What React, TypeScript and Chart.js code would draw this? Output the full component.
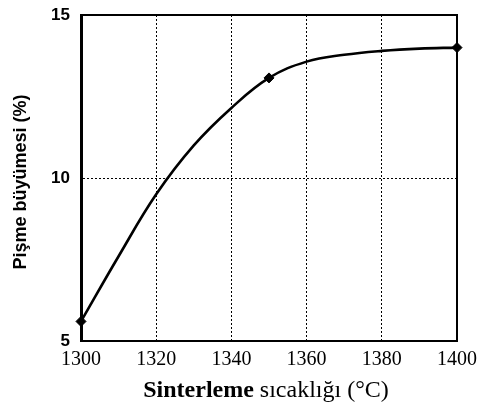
import React, { useEffect, useRef } from "react";
import { Chart, registerables } from "chart.js";

Chart.register(...registerables);

const curveTemps = [1300, 1310, 1320, 1330, 1340, 1350, 1360, 1370, 1380, 1390, 1400];
const curveGrowth = [5.6, 7.6, 9.5, 11.0, 12.15, 13.07, 13.57, 13.78, 13.9, 13.97, 14.0];
const measuredTemps = [1300, 1350, 1400];
const measuredGrowth = [5.6, 13.07, 14.0];
const xTicks = [1300, 1320, 1340, 1360, 1380, 1400];
const yTicks = [5, 10, 15];
const yTitle = "Pişme büyümesi (%)";
const xTitleBold = "Sinterleme";
const xTitleRegular = " sıcaklığı (°C)";

const framePlugin = {
  id: "frame",
  beforeDatasetsDraw(chart: any) {
    const { ctx, chartArea } = chart;
    ctx.save();
    ctx.strokeStyle = "#000";
    ctx.lineWidth = 2;
    ctx.beginPath();
    ctx.moveTo(chartArea.left, chartArea.top);
    ctx.lineTo(chartArea.right, chartArea.top);
    ctx.lineTo(chartArea.right, chartArea.bottom);
    ctx.stroke();
    ctx.restore();
  },
  afterDraw(chart: any) {
    const { ctx } = chart;
    ctx.save();
    ctx.fillStyle = "#000";
    const boldFont = "bold 24px 'Liberation Serif', 'Times New Roman', serif";
    const regFont = "24px 'Liberation Serif', 'Times New Roman', serif";
    ctx.font = boldFont;
    const wb = ctx.measureText(xTitleBold).width;
    ctx.font = regFont;
    const wr = ctx.measureText(xTitleRegular).width;
    const cx = 266;
    const startX = cx - (wb + wr) / 2;
    ctx.textBaseline = "alphabetic";
    ctx.textAlign = "left";
    ctx.font = boldFont;
    ctx.fillText(xTitleBold, startX, 397);
    ctx.font = regFont;
    ctx.fillText(xTitleRegular, startX + wb, 397);
    ctx.translate(21, 182);
    ctx.rotate(-Math.PI / 2);
    ctx.font = "bold 18px 'Liberation Sans', Arial, sans-serif";
    ctx.textAlign = "center";
    ctx.textBaseline = "middle";
    ctx.fillText(yTitle, 0, 0);
    ctx.restore();
  },
};

const zeroPad = (scale: any) => {
  scale.paddingTop = 0;
  scale.paddingBottom = 0;
  scale.paddingLeft = 0;
  scale.paddingRight = 0;
};

export default function App() {
  const canvasRef = useRef<HTMLCanvasElement | null>(null);

  useEffect(() => {
    document.body.style.margin = "0";
    const canvas = canvasRef.current;
    if (!canvas) return;
    const chart = new Chart(canvas, {
      type: "line",
      data: {
        datasets: [
          {
            label: "curve",
            data: curveTemps.map((t, i) => ({ x: t, y: curveGrowth[i] })),
            borderColor: "#000",
            borderWidth: 2.6,
            pointRadius: 0,
            tension: 0.4,
            fill: false,
            clip: false as any,
          },
          {
            label: "measured",
            data: measuredTemps.map((t, i) => ({ x: t, y: measuredGrowth[i] })),
            showLine: false,
            pointStyle: "rectRot",
            pointRadius: 5,
            backgroundColor: "#000",
            borderColor: "#000",
            borderWidth: 1,
            clip: false as any,
          },
        ],
      },
      options: {
        responsive: false,
        animation: false,
        layout: { padding: { top: 15, right: 23, left: 0, bottom: 0 } },
        plugins: {
          legend: { display: false },
          tooltip: { enabled: false },
        },
        scales: {
          x: {
            type: "linear",
            min: 1300,
            max: 1400,
            afterFit(scale: any) {
              scale.height = 67;
              zeroPad(scale);
            },
            afterBuildTicks(scale: any) {
              scale.ticks = xTicks.map((v) => ({ value: v }));
            },
            grid: { color: "#000", lineWidth: 1, drawTicks: false },
            border: { display: true, color: "#000", width: 2, dash: [2, 2] },
            ticks: {
              color: "#000",
              padding: 7,
              font: { family: "'Liberation Serif', 'Times New Roman', serif", size: 20 },
              maxRotation: 0,
              callback: (v: any) => String(v),
            },
          },
          y: {
            type: "linear",
            min: 5,
            max: 15,
            afterFit(scale: any) {
              scale.width = 81;
              zeroPad(scale);
            },
            afterBuildTicks(scale: any) {
              scale.ticks = yTicks.map((v) => ({ value: v }));
            },
            grid: { color: "#000", lineWidth: 1, drawTicks: false },
            border: { display: true, color: "#000", width: 3, dash: [2, 2] },
            ticks: {
              color: "#000",
              padding: 11,
              font: { family: "'Liberation Sans', Arial, sans-serif", size: 17, weight: "bold" },
              callback: (v: any) => String(v),
            },
          },
        },
      },
      plugins: [framePlugin],
    });
    return () => chart.destroy();
  }, []);

  return (
    <div style={{ width: 480, height: 408 }}>
      <canvas ref={canvasRef} width={480} height={408} />
    </div>
  );
}
